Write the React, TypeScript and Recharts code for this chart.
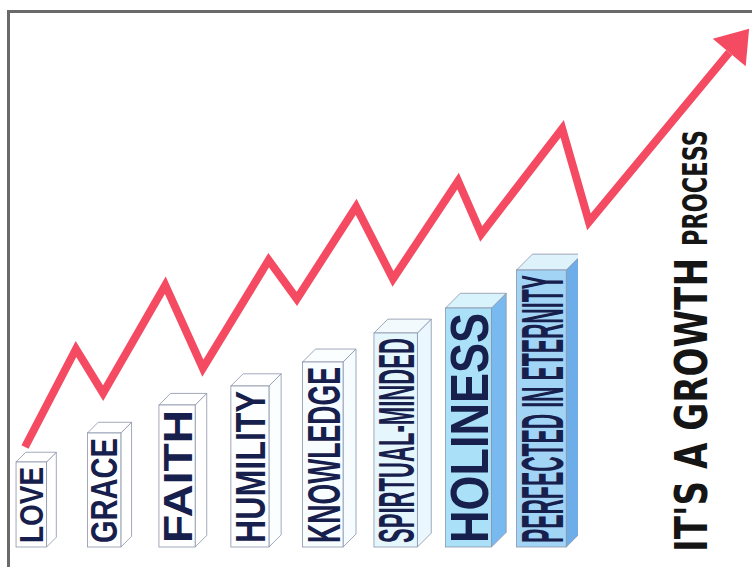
import React from 'react';
import { BarChart, Bar, XAxis, YAxis, LineChart, Line } from 'recharts';

// ---- data ----
const categories = ['LOVE', 'GRACE', 'FAITH', 'HUMILITY', 'KNOWLEDGE', 'SPIRTUAL-MINDED', 'HOLINESS', 'PERFECTED IN ETERNITY'];
const levels = [85, 114, 142, 161, 185, 214, 239, 277];

const growthT = [0, 7.05, 10.8, 19.4, 24.6, 33.7, 37.6, 45.8, 50.9, 59.9, 63.1, 74.3, 78.0, 97.4];
const growthLevel = [0, 23.5, 12.9, 38.8, 18.9, 44.8, 35.5, 57.6, 40.3, 63.8, 51.1, 76.3, 54.0, 94.6];

const titleMain = "IT'S A GROWTH";
const titleSmall = 'PROCESS';

// ---- styles ----
const frontFill = ['#ffffff', '#ffffff', '#ffffff', '#fdfeff', '#f8fdff', '#e6f6fd', '#aae1f9', '#a2d4f6'];
const topFill = ['#ffffff', '#ffffff', '#ffffff', '#ffffff', '#fbfeff', '#f2fafe', '#d9f3fc', '#def2fc'];
const sideFill = ['#ffffff', '#ffffff', '#ffffff', '#fbfeff', '#f6fcff', '#eaf7fe', '#78b9ef', '#6daeea'];
const labelFont = ['Liberation Sans', 'Liberation Sans', 'Liberation Sans', 'Liberation Sans Narrow', 'Liberation Sans Narrow', 'Liberation Sans Narrow', 'Liberation Sans', 'Liberation Sans Narrow'];
const edge = '#8a93a8';
const lineColor = '#f44b63';

const barData = categories.map((name, i) => ({ name, level: levels[i] }));
const lineData = growthT.map((t, i) => ({ t, g: growthLevel[i] }));

let measureCtx: CanvasRenderingContext2D | null = null;
const measureText = (text: string, font: string, fallbackPerChar: number) => {
  try {
    if (!measureCtx) measureCtx = document.createElement('canvas').getContext('2d');
    if (measureCtx) {
      measureCtx.font = font;
      const wdt = measureCtx.measureText(text).width;
      if (wdt > 0) return wdt;
    }
  } catch (e) {
    /* ignore */
  }
  return text.length * fallbackPerChar;
};

// Fit a rotated (bottom-to-top) text to a given length by horizontal scaling
const FittedText = ({ x, y, text, family, weight, size, length, fill }: any) => {
  const familyList = `'${family}', 'Liberation Sans', sans-serif`;
  const natural = measureText(text, `${weight} ${size}px ${familyList}`, size * 0.6);
  const sx = length / natural;
  return (
    <text
      transform={`translate(${x}, ${y}) rotate(-90) scale(${sx}, 1)`}
      fontFamily={familyList}
      fontWeight={weight}
      fontSize={size}
      fill={fill}
    >
      {text}
    </text>
  );
};

const Box3D = (props: any) => {
  const { x, y, width, height, index, payload } = props;
  if (height == null || height <= 0) return <g />;
  const cx = x + width / 2;
  const bottom = y + height;
  const w = 22 + payload.level * 0.1;
  const d = w * 0.32;
  const left = cx - w / 2;
  const right = left + w;
  const capH = w - 7;
  const fontSize = capH / 0.72;
  return (
    <g>
      <polygon
        points={`${right},${y} ${right + d},${y - d} ${right + d},${bottom - d} ${right},${bottom}`}
        fill={sideFill[index]}
        stroke={edge}
        strokeWidth={0.8}
      />
      <polygon
        points={`${left},${y} ${left + d},${y - d} ${right + d},${y - d} ${right},${y}`}
        fill={topFill[index]}
        stroke={edge}
        strokeWidth={0.8}
      />
      <rect x={left} y={y} width={w} height={height} fill={frontFill[index]} stroke={edge} strokeWidth={0.8} />
      <FittedText
        x={cx + capH / 2}
        y={bottom - 4}
        text={payload.name}
        family={labelFont[index]}
        weight="bold"
        size={fontSize}
        length={height - 9}
        fill="#17204c"
      />
    </g>
  );
};

const lastIdx = lineData.length - 1;
const ArrowDot = (props: any) => {
  const { cx, cy, index } = props;
  if (index !== lastIdx) return <g key={`d${index}`} />;
  const ang = (-50 * Math.PI) / 180;
  const len = 31;
  const half = 21.5;
  const dx = Math.cos(ang);
  const dy = Math.sin(ang);
  const tip = [cx + len * dx, cy + len * dy];
  const c1 = [cx - half * dy, cy + half * dx];
  const c2 = [cx + half * dy, cy - half * dx];
  return (
    <polygon
      key={`d${index}`}
      points={`${tip[0]},${tip[1]} ${c1[0]},${c1[1]} ${c2[0]},${c2[1]}`}
      fill={lineColor}
    />
  );
};

export default function App() {
  return (
    <div style={{ position: 'absolute', left: 0, top: 0, width: 752, height: 567, background: '#fff', overflow: 'hidden' }}>
      <div
        style={{
          position: 'absolute',
          left: 7,
          top: 10,
          width: 760,
          height: 570,
          borderTop: '3px solid #6a6a6a',
          borderLeft: '3px solid #6a6a6a',
        }}
      />
      <div style={{ position: 'absolute', left: -5, top: 0 }}>
        <BarChart width={583} height={567} data={barData} margin={{ top: 247, right: 0, bottom: 20, left: 0 }}>
          <XAxis dataKey="name" hide />
          <YAxis domain={[0, 300]} hide />
          <Bar dataKey="level" shape={<Box3D />} isAnimationActive={false} />
        </BarChart>
      </div>
      <div style={{ position: 'absolute', left: 0, top: 0, pointerEvents: 'none' }}>
        <LineChart width={752} height={567} data={lineData} margin={{ top: 30, right: 4, bottom: 120, left: 25 }}>
          <XAxis dataKey="t" type="number" domain={[0, 100]} hide />
          <YAxis domain={[0, 100]} hide />
          <Line
            dataKey="g"
            type="linear"
            stroke={lineColor}
            strokeWidth={8}
            strokeLinejoin="miter"
            strokeLinecap="butt"
            dot={ArrowDot}
            activeDot={false}
            isAnimationActive={false}
          />
        </LineChart>
      </div>
      <svg width={752} height={567} style={{ position: 'absolute', left: 0, top: 0, pointerEvents: 'none' }}>
        <FittedText
          x={707}
          y={552}
          text={titleMain}
          family="DejaVu Sans Condensed"
          weight="bold"
          size={44}
          length={294}
          fill="#151515"
        />
        <FittedText
          x={707}
          y={246}
          text={titleSmall}
          family="DejaVu Sans Condensed"
          weight="bold"
          size={33}
          length={116}
          fill="#151515"
        />
      </svg>
    </div>
  );
}
